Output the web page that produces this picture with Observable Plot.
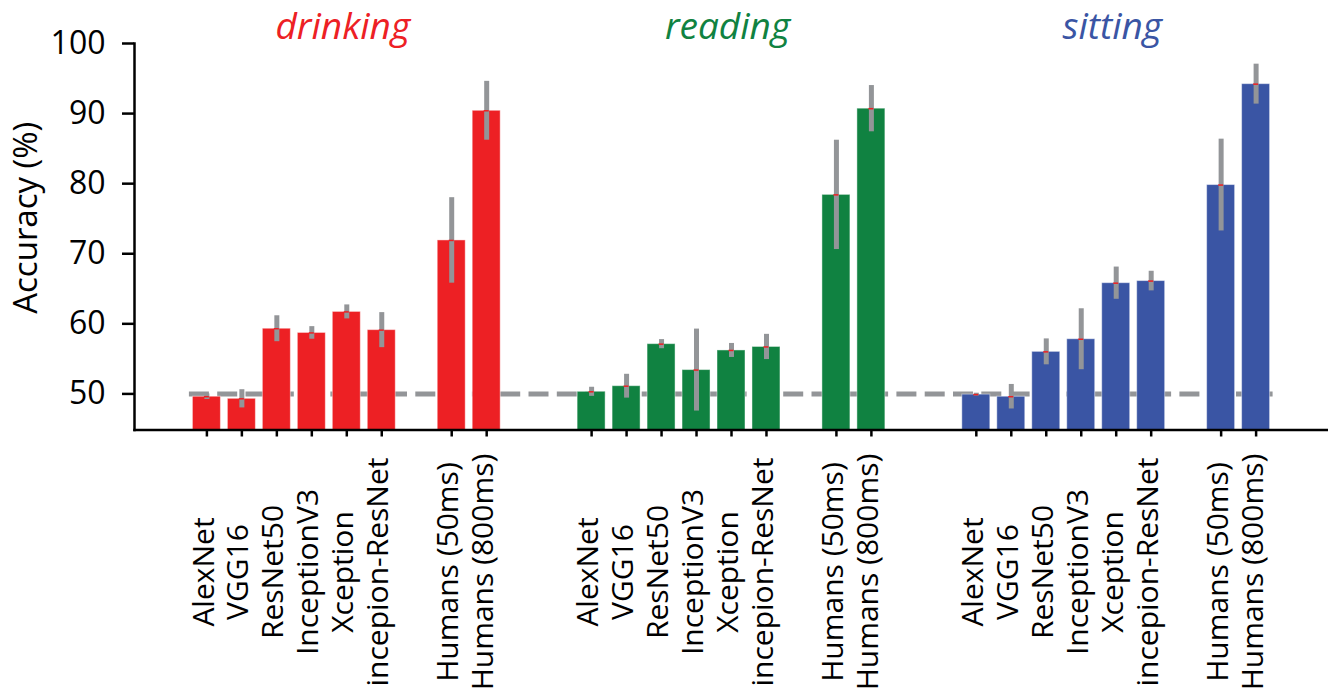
<!DOCTYPE html>
<html><head><meta charset="utf-8">
<script src="https://cdn.jsdelivr.net/npm/d3@7"></script>
<script src="https://cdn.jsdelivr.net/npm/@observablehq/plot@0.6"></script>
<style>html,body{margin:0;padding:0;background:#fff;} svg{display:block}</style>
</head><body><div id="chart"></div>
<script>
const groups = ["drinking", "reading", "sitting"];
const groupColors = ["#ED2024", "#108241", "#3A55A4"];
const models = ["AlexNet", "VGG16", "ResNet50", "InceptionV3", "Xception", "incepion-ResNet"];
const humans = ["Humans (50ms)", "Humans (800ms)"];
const drinkingAcc = [49.6, 49.3, 59.3, 58.7, 61.7, 59.1, 71.9, 90.4];
const drinkingErr = [0.4, 1.3, 1.85, 0.9, 1.0, 2.5, 6.1, 4.2];
const readingAcc = [50.3, 51.1, 57.1, 53.4, 56.2, 56.7, 78.4, 90.7];
const readingErr = [0.65, 1.7, 0.65, 5.85, 1.0, 1.8, 7.8, 3.3];
const sittingAcc = [49.9, 49.6, 56.0, 57.8, 65.8, 66.1, 79.8, 94.2];
const sittingErr = [0.2, 1.75, 1.85, 4.35, 2.3, 1.4, 6.55, 2.85];
const yTicks = [50, 60, 70, 80, 90, 100];
const chance = 50;
const yDomain = [44.85, 100];

const labels = [...models, ...humans];
const accs = [drinkingAcc, readingAcc, sittingAcc];
const errs = [drinkingErr, readingErr, sittingErr];
const key = (g, l) => g + "|" + l;
const rows = groups.flatMap((g, gi) => labels.map((l, li) => ({
  group: g, label: l, key: key(g, l), acc: accs[gi][li], err: errs[gi][li]
})));
const domain = groups.flatMap((g, gi) => [
  ...models.map(m => key(g, m)), key(g, "·gap"), ...humans.map(h => key(g, h)),
  ...(gi < groups.length - 1 ? [key(g, "·sep1"), key(g, "·sep2")] : [])
]);
const chanceLine = [{y: chance, x1: key(groups[0], labels[0]), x2: key(groups[groups.length - 1], labels[labels.length - 1])}];
const gray = "#939598";

const chart = Plot.plot({
  width: 1328, height: 695,
  marginLeft: 134, marginRight: 0, marginTop: 43, marginBottom: 265.5,
  style: {fontFamily: "'Open Sans', sans-serif", background: "#fff", color: "#000"},
  x: {type: "band", domain, paddingInner: 0.2, paddingOuter: 1.67, align: 0.5, round: false},
  y: {domain: yDomain},
  color: {domain: groups, range: groupColors},
  marks: [
    Plot.ruleY(chanceLine, {y: "y", x1: "x1", x2: "x2", stroke: gray, strokeWidth: 5,
      strokeDasharray: "20 8.3", insetLeft: -3.5, insetRight: -3}),
    Plot.barY(rows, {x: "key", y: "acc", fill: "group", stroke: "#fff", strokeOpacity: 0.45, strokeWidth: 1, clip: true}),
    Plot.ruleX(rows, {x: "key", y1: d => d.acc - d.err, y2: d => d.acc + d.err, stroke: gray, strokeWidth: 5}),
    Plot.tickY(rows, {x: "key", y: "acc", stroke: "#ED2024", strokeWidth: 1.5, insetLeft: 11.5, insetRight: 11.5}),
    Plot.frame({anchor: "left", strokeWidth: 2.5}),
    Plot.frame({anchor: "bottom", strokeWidth: 2.5}),
    Plot.axisY({ticks: yTicks, tickSize: 12, tickPadding: 17, fontSize: 32, strokeWidth: 2.5, label: null, tickFormat: d => d}),
    Plot.axisX({ticks: rows.map(d => d.key), tickSize: 7, strokeWidth: 2.5, label: null, tickFormat: () => ""}),
    Plot.text(rows, {x: "key", text: "label", frameAnchor: "bottom", rotate: -90, dy: 142, dx: -3,
      fontSize: 30, textAnchor: "middle", lineAnchor: "middle"}),
    Plot.text(groups, {x: g => key(g, models[4]), text: g => g, fill: g => g, frameAnchor: "top",
      dy: -16, dx: -4, fontSize: 37, fontStyle: "italic", textAnchor: "middle", lineAnchor: "middle"}),
    Plot.text(["Accuracy (%)"], {frameAnchor: "left", text: d => d, rotate: -90, dx: -108, dy: -19, fontSize: 33,
      textAnchor: "middle", lineAnchor: "middle"})
  ]
});
document.getElementById("chart").appendChild(chart);
</script>
</body></html>
